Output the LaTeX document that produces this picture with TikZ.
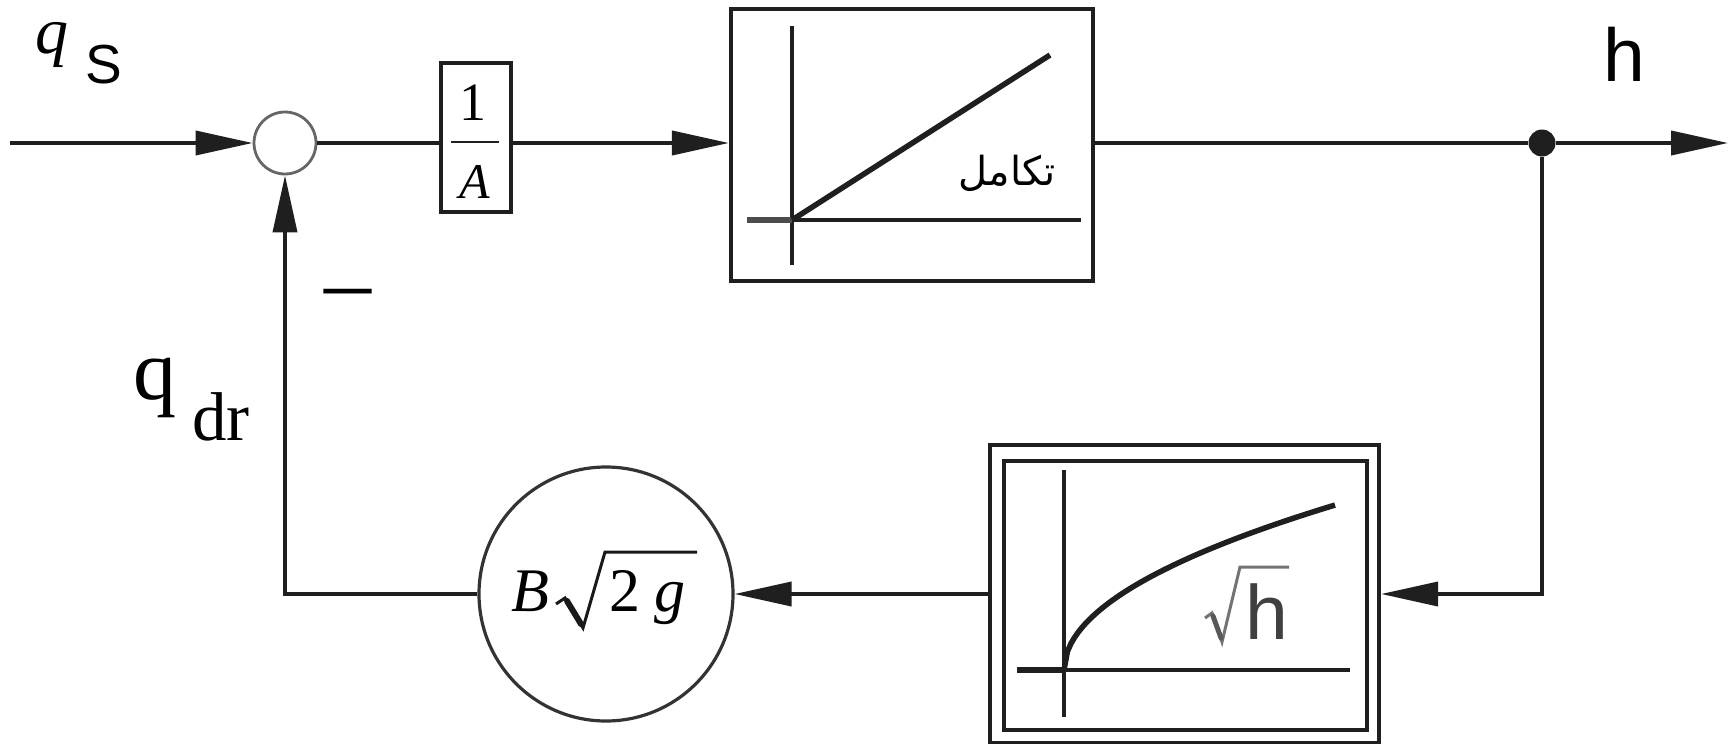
\documentclass[tikz,border=0pt]{standalone}
\usepackage{fontspec}
\setmainfont{Liberation Serif}
\setsansfont{Liberation Sans}
\newfontfamily\arabicfont[Script=Arabic]{DejaVu Sans}
\TeXXeTstate=1
\usetikzlibrary{arrows.meta}
\newcommand{\fs}[1]{\fontsize{#1}{#1}\selectfont}
\begin{document}
\begin{tikzpicture}[x=1pt,y=-1pt,
  wire/.style={line width=3.8pt, draw=black!88},
  arr/.style={wire, -{Triangle[length=57pt,width=24pt]}},
  blk/.style={draw=black!88, line width=4.2pt, rectangle, inner sep=0pt},
  sumc/.style={circle, draw=black!60, line width=2.8pt, minimum size=62pt, inner sep=0pt, fill=white},
  axis/.style={line width=3.2pt, draw=black!88},
  stub/.style={line width=5.5pt, draw=black!70},
  curve/.style={line width=5.5pt, draw=black!88},
  txt/.style={inner sep=0pt, outer sep=0pt, anchor=base west},
]
\useasboundingbox (0,0) rectangle (1730,744);

% nodes
\node[sumc] (sum) at (285,143) {};
\node[blk, minimum width=70pt, minimum height=149pt] (gain) at (476,137.5) {};
\node[blk, minimum width=362pt, minimum height=272pt] (integ) at (912,145) {};
\node[circle, fill=black!88, minimum size=27pt, inner sep=0pt] (branch) at (1542,143) {};
\coordinate (out) at (1728,143);
\coordinate (in) at (10,143);
\node[blk, minimum width=389pt, minimum height=298pt] (sqrtbox) at (1184.5,594) {};
\node[circle, draw=black!80, line width=3.2pt, minimum size=254pt, inner sep=0pt] (gcirc) at (606,594) {};

% fraction 1/A
\node[txt, anchor=base] (one) at (473,120) {\fs{54}1};
\node[txt, anchor=base] (den) at (475,198) {\fs{50}\itshape A};
\draw[line width=2.8pt, black!88] (451,142) -- (499,142);

% integrator graph
\draw[axis] (792,26) -- (792,265);
\draw[axis] (792,220) -- (1081,220);
\draw[stub] (747,220) -- (792,220);
\draw[curve] (792,220) -- (1050,55);
\node[inner sep=0pt] (intlbl) at (1007,173) {\arabicfont\fs{40}\beginR تكامل\endR};

% sqrt block
\draw[blk] (1004,461) rectangle (1367,730);
\draw[axis] (1064,470) -- (1064,717);
\draw[axis] (1064,670) -- (1350,670);
\draw[stub, black!88] (1017,670) -- (1064,670);
\draw[curve] plot[domain=0:271, samples=80] ({1064+\x},{670-10.02*sqrt(\x)});
\draw[line width=3pt, black!55, line join=miter] (1205,618) -- (1212,613) -- (1222,642) -- (1240,567) -- (1289,567);
\draw[line width=5pt, black!65, line cap=round] (1213,616) -- (1221,638);
\node[txt, text=black!75] (hlbl) at (1245,639) {\sffamily\fs{77}h};

% B sqrt(2g)
\draw[line width=3pt, black!90, line join=miter] (556,604) -- (565,598) -- (583,628) -- (605,552) -- (697,552);
\draw[line width=6pt, black!90, line cap=round] (567,601) -- (581,624);
\node[txt] (Bl) at (511,611) {\fs{62}\itshape B};
\node[txt] (twol) at (609,611) {\fs{62}2};
\node[txt] (gl) at (654,611) {\fs{62}\itshape g};

% labels
\node[txt] (qs) at (35,53) {\fs{66}\itshape q};
\node[txt] (qss) at (85,83) {\sffamily\fs{55}S};
\node[txt] (qd) at (133,399) {\fs{86}q};
\node[txt] (qdd) at (192,440) {\fs{69}dr};
\node[txt] (hout) at (1603,81) {\sffamily\fs{75}h};
\node[txt, anchor=base] (minus) at (348,313) {\fs{94}–};

% connectors
\draw[arr] (in) -- (sum.west);
\draw[wire] (sum.east) -- (sum.east -| gain.west);
\draw[arr] (sum -| gain.east) -- (sum -| integ.west);
\draw[wire] (sum -| integ.east) -- (branch);
\draw[arr] (branch) -- (out);
\draw[arr] (branch) |- (sqrtbox.east);
\draw[arr] (sqrtbox.west) -- (gcirc.east);
\draw[arr] (gcirc.west) -| (sum.south);
\end{tikzpicture}
\end{document}
